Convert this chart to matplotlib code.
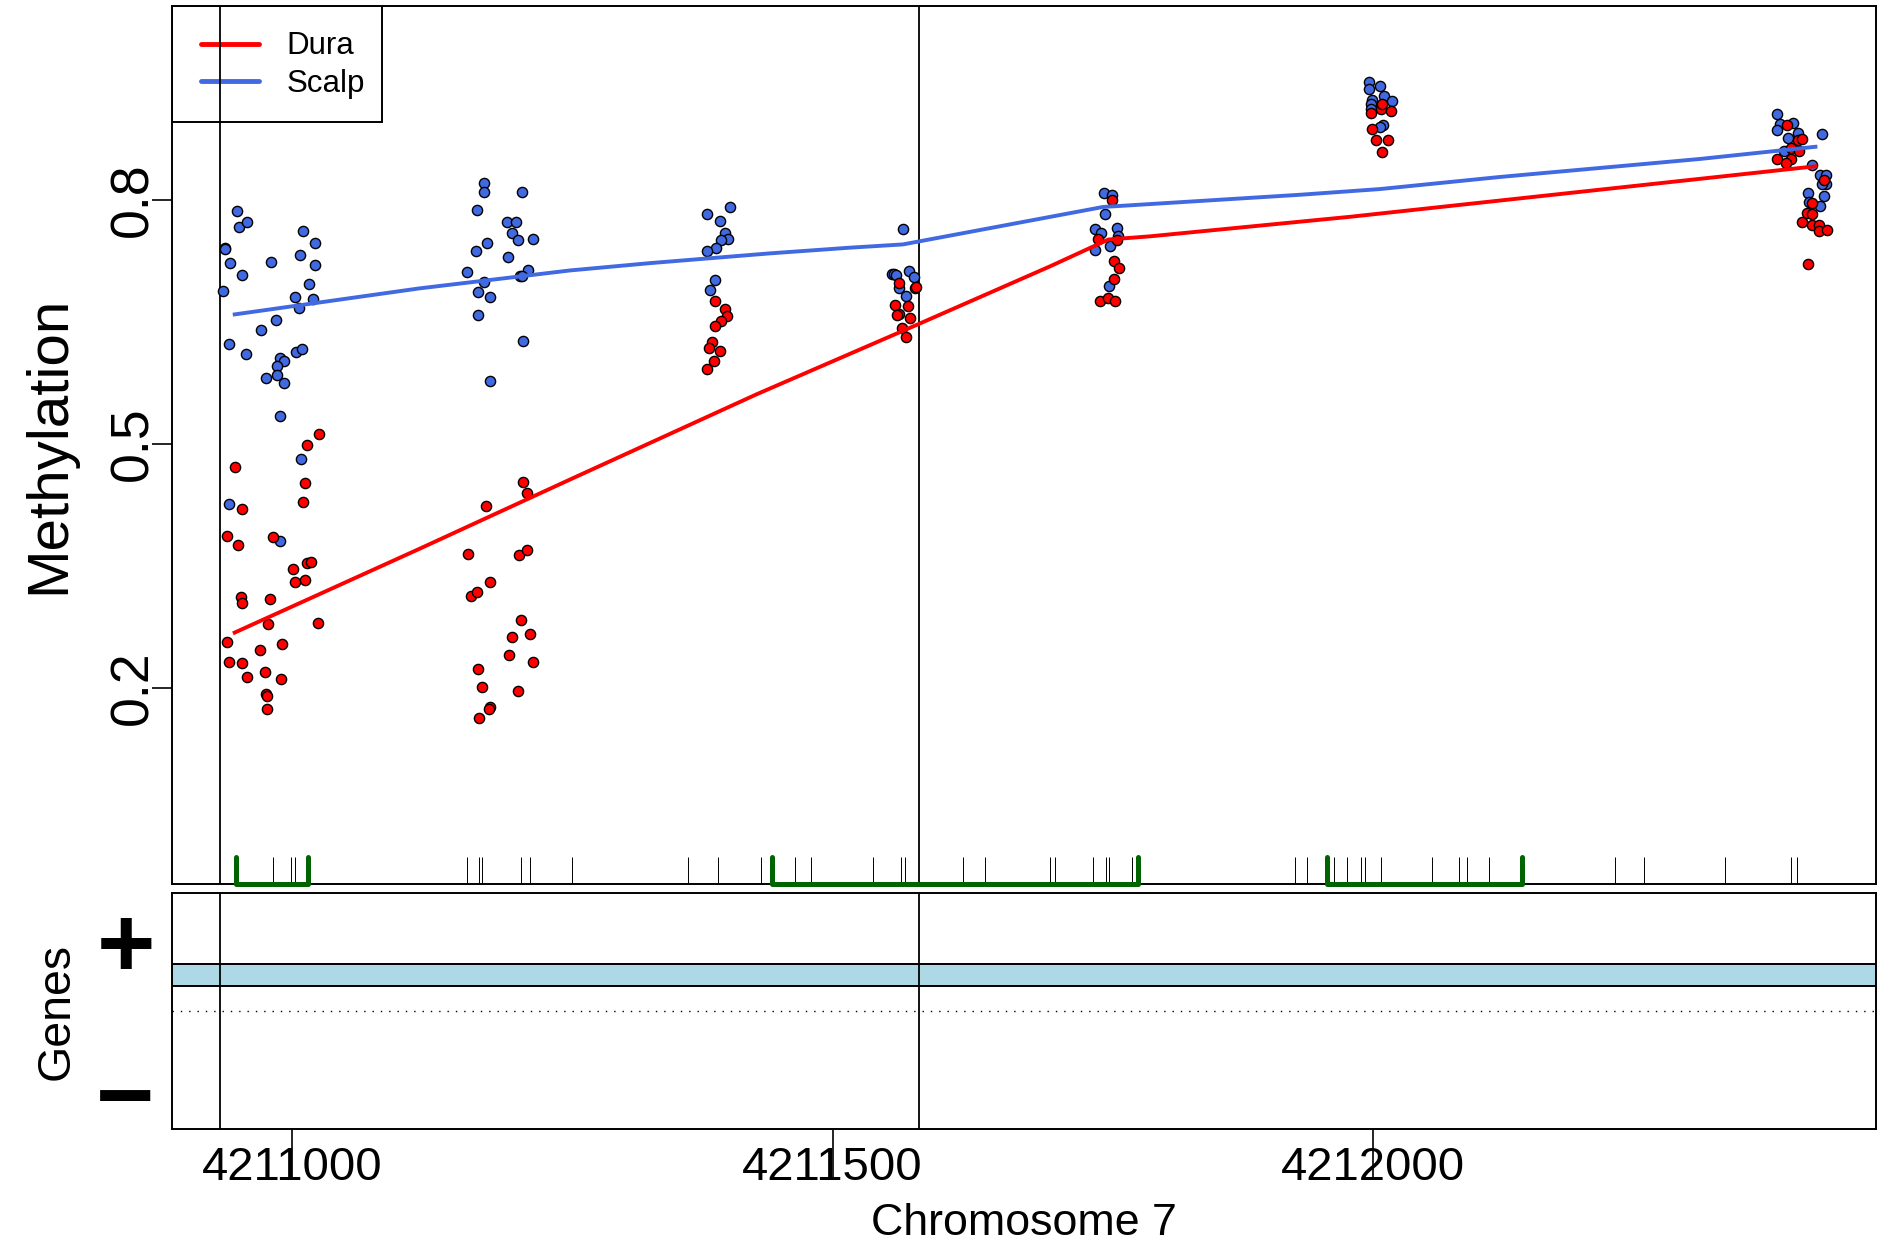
import matplotlib
matplotlib.use('Agg')
import matplotlib.pyplot as plt
from matplotlib.lines import Line2D
from matplotlib.patches import Rectangle
from matplotlib.legend_handler import HandlerLine2D

plt.rcParams['font.family'] = ['Liberation Sans', 'DejaVu Sans']

# ---------------- data ----------------
scalp_pos = [4210949, 4210951, 4210958, 4210938, 4210938, 4210943, 4210954, 4210936, 4210981, 4211010,
             4211021, 4211007, 4211021, 4211016, 4211003, 4211006, 4211019, 4210985, 4210971, 4210942,
             4210957, 4211004, 4211009, 4210989, 4210993, 4210986, 4210976, 4210986, 4210993, 4210989,
             4211008, 4210942, 4210989,
             4211178, 4211178, 4211213, 4211171, 4211199, 4211207, 4211203, 4211209, 4211180, 4211223,
             4211170, 4211200, 4211162, 4211218, 4211211, 4211213, 4211178, 4211172, 4211183, 4211172,
             4211214, 4211183,
             4211384, 4211405, 4211396, 4211400, 4211403, 4211397, 4211392, 4211384, 4211391, 4211387,
             4211565, 4211555, 4211557, 4211559, 4211571, 4211575, 4211561, 4211568, 4211576,
             4211751, 4211758, 4211752, 4211743, 4211748, 4211763, 4211764, 4211743, 4211757, 4211756,
             4211996, 4212006, 4211996, 4212010, 4212017, 4211999, 4211998, 4211998, 4212009, 4212006,
             4212373, 4212376, 4212388, 4212373, 4212393, 4212384, 4212415, 4212380, 4212406, 4212413,
             4212419, 4212419, 4212415, 4212402, 4212417, 4212403, 4212413]
scalp_meth = [0.786, 0.767, 0.772, 0.741, 0.739, 0.722, 0.707, 0.688, 0.723, 0.762,
              0.747, 0.732, 0.720, 0.696, 0.680, 0.667, 0.678, 0.652, 0.640, 0.623,
              0.610, 0.613, 0.616, 0.605, 0.602, 0.595, 0.581, 0.584, 0.575, 0.534,
              0.481, 0.426, 0.381,
              0.821, 0.809, 0.810, 0.787, 0.772, 0.772, 0.759, 0.750, 0.747, 0.752,
              0.737, 0.730, 0.711, 0.714, 0.706, 0.706, 0.699, 0.686, 0.680, 0.658,
              0.626, 0.577,
              0.782, 0.791, 0.774, 0.759, 0.752, 0.750, 0.741, 0.737, 0.701, 0.689,
              0.764, 0.709, 0.709, 0.707, 0.712, 0.705, 0.692, 0.682, 0.692,
              0.808, 0.806, 0.782, 0.764, 0.759, 0.765, 0.755, 0.738, 0.743, 0.694,
              0.944, 0.940, 0.936, 0.928, 0.921, 0.923, 0.917, 0.912, 0.892, 0.889,
              0.905, 0.893, 0.894, 0.885, 0.882, 0.876, 0.881, 0.860, 0.843, 0.830,
              0.830, 0.819, 0.819, 0.808, 0.805, 0.797, 0.792]

dura_pos = [4210947, 4211025, 4211014, 4211012, 4211010, 4210954, 4210940, 4210950, 4210982, 4211001,
            4211014, 4211018, 4211003, 4211012, 4210953, 4210954, 4210980, 4210978, 4211024, 4210940,
            4210970, 4210991, 4210942, 4210954, 4210958, 4210975, 4210990, 4210976, 4210977, 4210977,
            4211214, 4211217, 4211179, 4211163, 4211210, 4211217, 4211183, 4211166, 4211171, 4211212,
            4211203, 4211220, 4211201, 4211223, 4211172, 4211176, 4211209, 4211183, 4211182, 4211173,
            4211391, 4211400, 4211402, 4211397, 4211391, 4211388, 4211386, 4211396, 4211390, 4211384,
            4211561, 4211577, 4211558, 4211570, 4211561, 4211560, 4211572, 4211564, 4211568,
            4211758, 4211745, 4211763, 4211760, 4211765, 4211760, 4211747, 4211755, 4211761,
            4211998, 4212007, 4212016, 4212008, 4211999, 4212014, 4212003, 4212008,
            4212383, 4212393, 4212397, 4212386, 4212394, 4212373, 4212386, 4212382, 4212417, 4212406,
            4212401, 4212406, 4212397, 4212406, 4212412, 4212412, 4212420, 4212402]
dura_meth = [0.472, 0.512, 0.498, 0.452, 0.429, 0.420, 0.387, 0.375, 0.385, 0.346,
             0.354, 0.355, 0.330, 0.332, 0.312, 0.304, 0.309, 0.279, 0.280, 0.256,
             0.247, 0.254, 0.232, 0.231, 0.213, 0.219, 0.211, 0.192, 0.190, 0.174,
             0.453, 0.439, 0.424, 0.365, 0.363, 0.370, 0.330, 0.313, 0.318, 0.284,
             0.262, 0.266, 0.240, 0.232, 0.223, 0.201, 0.196, 0.176, 0.174, 0.163,
             0.675, 0.666, 0.657, 0.651, 0.645, 0.625, 0.618, 0.614, 0.602, 0.592,
             0.697, 0.693, 0.671, 0.669, 0.660, 0.658, 0.654, 0.642, 0.631,
             0.800, 0.752, 0.750, 0.725, 0.716, 0.702, 0.675, 0.679, 0.676,
             0.906, 0.912, 0.909, 0.918, 0.887, 0.873, 0.873, 0.858,
             0.892, 0.873, 0.875, 0.863, 0.860, 0.850, 0.850, 0.845, 0.824, 0.796,
             0.783, 0.782, 0.773, 0.769, 0.769, 0.761, 0.763, 0.721]

# smoothed group means
scalp_line_pos = [4210947, 4211118, 4211257, 4211331, 4211442, 4211516, 4211565, 4211750,
                  4211932, 4212006, 4212118, 4212302, 4212409]
scalp_line_meth = [0.659, 0.691, 0.713, 0.722, 0.734, 0.741, 0.745, 0.791,
                   0.806, 0.813, 0.828, 0.850, 0.865]
dura_line_pos = [4210947, 4211118, 4211257, 4211430, 4211581, 4211701, 4211755, 4211794,
                 4211979, 4212409]
dura_line_meth = [0.268, 0.371, 0.456, 0.561, 0.648, 0.718, 0.751, 0.755, 0.779, 0.841]

# CpG positions (rug) and CpG islands
cpg_pos = [4210982, 4210999, 4211003, 4211162, 4211173, 4211176, 4211212, 4211220, 4211259,
           4211366, 4211394, 4211434, 4211465, 4211480, 4211537, 4211563, 4211567, 4211621,
           4211641, 4211701, 4211706, 4211741, 4211753, 4211756, 4211777, 4211928, 4211939,
           4211964, 4211976, 4211989, 4211992, 4212007, 4212054, 4212079, 4212087, 4212107,
           4212224, 4212250, 4212325, 4212386, 4212392]
island_start = [4210948, 4211444, 4211957]
island_end = [4211015, 4211782, 4212138]

# DMR boundaries
dmr_bounds = [4210933, 4211580]

xticks = [4211000, 4211500, 4212000]
xtick_labels = ['4211000', '4211500', '4212000']
yticks = [0.2, 0.5, 0.8]
ytick_labels = ['0.2', '0.5', '0.8']
series_labels = ['Dura', 'Scalp']
x_range = (4210889, 4212465)

RED = '#FF0000'
BLUE = '#4169E1'
GREEN = '#006400'

W, H = 1878, 1243
fig = plt.figure(figsize=(W / 100, H / 100), dpi=100)
ax = fig.add_axes([172 / W, (H - 884) / H, 1704 / W, 878 / H])
axg = fig.add_axes([172 / W, (H - 1129) / H, 1704 / W, 236 / H])

# ---------------- top panel ----------------
for xb in dmr_bounds:
    ax.axvline(xb, color='black', lw=1.3, zorder=2.5)
ax.scatter(scalp_pos, scalp_meth, s=54, c=BLUE, edgecolors='black', linewidths=1.0, zorder=3)
ax.scatter(dura_pos, dura_meth, s=54, c=RED, edgecolors='black', linewidths=1.0, zorder=3)
ax.plot(dura_line_pos, dura_line_meth, color=RED, lw=2.8, zorder=4)
ax.plot(scalp_line_pos, scalp_line_meth, color=BLUE, lw=2.8, zorder=4)

xt = ax.get_xaxis_transform()
ax.vlines(cpg_pos, 0, 0.031, transform=xt, color='black', lw=0.7, zorder=2)
for s, e in zip(island_start, island_end):
    ax.plot([s, s, e, e], [0.031, 0.0, 0.0, 0.031], transform=xt, color=GREEN, lw=3.6,
            solid_capstyle='round', solid_joinstyle='round', clip_on=False, zorder=5)

ax.set_xlim(*x_range)
ax.set_ylim(-0.041, 1.038)
ax.set_xticks([])
ax.set_yticks(yticks)
ax.set_yticklabels(ytick_labels, rotation=90, va='center', fontsize=38.6)
ax.tick_params(axis='y', length=14.4, width=1.2, pad=-4.4)
for sp in ax.spines.values():
    sp.set_linewidth(1.4)

# legend: frame box + entries
ax.add_patch(Rectangle((0, 1 - 116 / 878), 210 / 1704, 116 / 878, transform=ax.transAxes,
                       facecolor='none', edgecolor='black', lw=1.4, zorder=2))
handles = [Line2D([], [], color=RED, lw=3.5, solid_capstyle='round'),
           Line2D([], [], color=BLUE, lw=3.5, solid_capstyle='round')]
leg = ax.legend(handles, series_labels, loc='upper left', bbox_to_anchor=(0, 1 - 2 / 878),
                borderaxespad=0, frameon=False,
                fontsize=22.5, handlelength=2.02, handletextpad=0.89, borderpad=0.75,
                labelspacing=0.25,
                handler_map={Line2D: HandlerLine2D(xpad=0.19)})
leg.set_zorder(2)

fig.text(49 / W, 1 - 445 / H, 'Methylation', rotation=90, ha='center', va='center', fontsize=42)

# ---------------- gene panel ----------------
axg.set_xlim(*x_range)
axg.set_ylim(0, 1)
axg.axhspan(0.606, 0.699, facecolor='#ADD8E6', edgecolor='black', lw=1.4, zorder=2)
axg.axhline(0.5, color='black', lw=1.0, ls=(0, (1, 5)), zorder=2)
for xb in dmr_bounds:
    axg.axvline(xb, color='black', lw=1.3, zorder=3)
axg.set_yticks([])
axg.set_xticks(xticks)
axg.set_xticklabels(xtick_labels, fontsize=34)
axg.tick_params(axis='x', length=36.7, width=1.2, pad=-24.2)
for sp in axg.spines.values():
    sp.set_linewidth(1.4)
axg.text(-0.0273, 0.754, '+', transform=axg.transAxes, ha='center', va='center',
         fontsize=72, fontweight='bold')
axg.text(-0.0273, 0.110, '\u2212', transform=axg.transAxes, ha='center', va='center',
         fontsize=72, fontweight='bold')
fig.text(57 / W, 1 - 1011 / H, 'Genes', rotation=90, ha='center', va='center', fontsize=33.5)
fig.text(1024 / W, 1 - 1223.6 / H, 'Chromosome 7', ha='center', va='center', fontsize=32.2)

fig.savefig('out.png', dpi=100)
